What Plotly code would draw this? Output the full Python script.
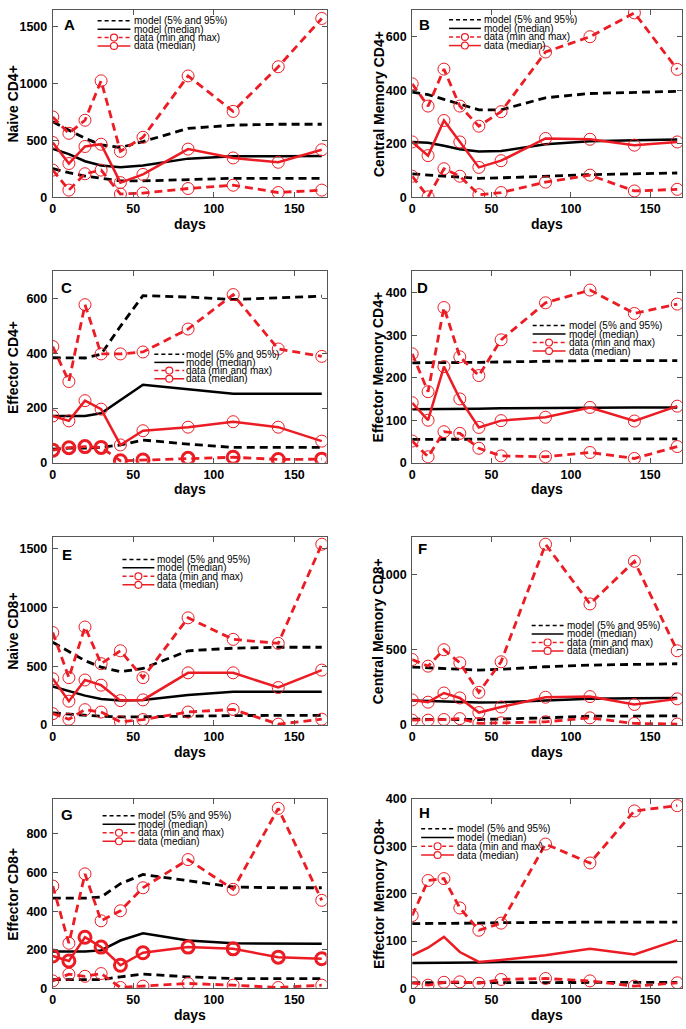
import plotly.graph_objects as go

# ---------------- data ----------------
days = [0, 10, 20, 30, 42, 56, 84, 112, 140, 167]
x_ticks = [0, 50, 100, 150]

# A: Naive CD4+
a_model_hi = [665, 592, 520, 462, 439, 491, 607, 636, 644, 644]
a_model_med = [428, 381, 318, 280, 266, 280, 341, 361, 361, 364]
a_model_lo = [254, 217, 188, 168, 145, 145, 159, 168, 168, 168]
a_data_max = [708, 564, 679, 1026, 405, 529, 1069, 757, 1150, 1575]
a_data_med = [483, 298, 448, 468, 130, 202, 425, 347, 309, 419]
a_data_min = [240, 64, 208, 240, 29, 38, 78, 107, 43, 64]

# B: Central Memory CD4+
b_model_hi = [393, 384, 366, 348, 327, 327, 372, 388, 393, 396]
b_model_med = [207, 204, 193, 180, 171, 173, 198, 210, 213, 216]
b_model_lo = [88, 83, 79, 76, 71, 73, 79, 85, 88, 91]
b_data_max = [424, 341, 479, 341, 266, 320, 543, 600, 689, 478]
b_data_med = [207, 156, 287, 207, 112, 137, 220, 217, 195, 207]
b_data_min = [79, 2, 107, 79, 10, 18, 57, 83, 24, 30]

# C: Effector CD4+
c_model_hi = [384, 383, 383, 397, 499, 611, 606, 597, 603, 609]
c_model_med = [171, 171, 171, 181, 230, 285, 269, 252, 252, 252]
c_model_lo = [50, 53, 53, 56, 65, 83, 68, 56, 56, 56]
c_data_max = [425, 297, 578, 398, 398, 405, 489, 615, 416, 389]
c_data_med = [171, 153, 227, 196, 65, 117, 130, 150, 130, 79]
c_data_min = [46, 55, 59, 56, 7, 10, 16, 20, 12, 13]

# D: Effector Memory CD4+
d_model_hi = [235, 235, 235, 235, 236, 237, 239, 240, 240, 240]
d_model_med = [126, 126, 126, 126, 127, 128, 129, 130, 130, 130]
d_model_lo = [55, 55, 55, 55, 55, 55, 56, 56, 56, 56]
d_data_max = [256, 167, 365, 249, 205, 289, 376, 406, 351, 373]
d_data_med = [141, 100, 226, 150, 83, 99, 107, 130, 98, 133]
d_data_min = [51, 14, 73, 69, 34, 16, 14, 24, 10, 38]

# E: Naive CD8+
e_model_hi = [703, 625, 547, 492, 453, 481, 631, 653, 661, 661]
e_model_med = [328, 292, 250, 222, 208, 214, 256, 283, 283, 283]
e_model_lo = [103, 92, 83, 75, 69, 69, 75, 81, 83, 83]
e_data_max = [786, 403, 833, 522, 631, 403, 911, 728, 694, 1536]
e_data_med = [394, 203, 383, 339, 208, 214, 444, 444, 319, 467]
e_data_min = [97, 50, 131, 111, 28, 47, 111, 133, 8, 50]

# F: Central Memory CD8+
f_model_hi = [385, 380, 374, 370, 365, 370, 387, 398, 402, 407]
f_model_med = [163, 159, 157, 152, 150, 152, 163, 174, 178, 180]
f_model_lo = [39, 37, 37, 37, 37, 39, 48, 59, 61, 61]
f_data_max = [435, 391, 500, 413, 217, 420, 1200, 804, 1087, 493]
f_data_med = [167, 152, 213, 180, 83, 120, 185, 189, 137, 174]
f_data_min = [33, 33, 37, 43, 11, 15, 22, 48, 11, 7]

# G: Effector CD8+
g_model_hi = [467, 467, 467, 473, 542, 590, 556, 525, 521, 521]
g_model_med = [191, 191, 191, 197, 248, 285, 248, 234, 231, 231]
g_model_lo = [46, 46, 46, 46, 60, 74, 60, 51, 51, 51]
g_data_max = [530, 234, 593, 350, 402, 521, 667, 513, 932, 456]
g_data_med = [168, 142, 265, 214, 120, 185, 214, 205, 162, 154]
g_data_min = [39, 74, 63, 77, 5, 12, 26, 17, 5, 17]

# H: Effector Memory CD8+
h_model_hi = [137, 137, 137, 138, 138, 139, 140, 140, 140, 140]
h_model_med = [54, 54, 54, 55, 55, 56, 56, 56, 56, 56]
h_model_lo = [12, 12, 12, 12, 13, 13, 13, 13, 13, 13]
h_data_max = [154, 228, 232, 170, 123, 138, 305, 265, 375, 386]
h_data_med = [70, 86, 109, 77, 56, 60, 70, 84, 72, 102]
h_data_min = [12, 7, 13, 14, 11, 19, 21, 16, 5, 12]

panel_letters = ["A", "B", "C", "D", "E", "F", "G", "H"]
panel_titles = ["Naive CD4+", "Central Memory CD4+", "Effector CD4+", "Effector Memory CD4+",
                "Naive CD8+", "Central Memory CD8+", "Effector CD8+", "Effector Memory CD8+"]
y_ranges = [[0, 1650], [0, 700], [0, 700], [0, 450], [0, 1600], [0, 1250], [0, 980], [0, 400]]
y_ticks = [[0, 500, 1000, 1500], [0, 200, 400, 600], [0, 200, 400, 600], [0, 100, 200, 300, 400],
           [0, 500, 1000, 1500], [0, 500, 1000], [0, 200, 400, 600, 800], [0, 100, 200, 300, 400]]
legend_labels = ["model (5% and 95%)", "model (median)", "data (min and max)", "data (median)"]

series = [
    (a_model_hi, a_model_med, a_model_lo, a_data_max, a_data_med, a_data_min),
    (b_model_hi, b_model_med, b_model_lo, b_data_max, b_data_med, b_data_min),
    (c_model_hi, c_model_med, c_model_lo, c_data_max, c_data_med, c_data_min),
    (d_model_hi, d_model_med, d_model_lo, d_data_max, d_data_med, d_data_min),
    (e_model_hi, e_model_med, e_model_lo, e_data_max, e_data_med, e_data_min),
    (f_model_hi, f_model_med, f_model_lo, f_data_max, f_data_med, f_data_min),
    (g_model_hi, g_model_med, g_model_lo, g_data_max, g_data_med, g_data_min),
    (h_model_hi, h_model_med, h_model_lo, h_data_max, h_data_med, h_data_min),
]

# ---------------- layout / style ----------------
W, H = 686, 1029
RED = "#ec1c24"
BLACK = "#000000"
FAM = "Liberation Sans, Arial, sans-serif"
TICK_FONT = dict(family=FAM, size=12.5, color="black", weight="bold")
TITLE_FONT = dict(family=FAM, size=14, color="black")
LEG_FONT = dict(family=FAM, size=10, color="black")

col_px = [(50, 325), (411, 682)]
row_px = [(3, 193), (268, 462), (537, 728), (803, 995)]
title_x_px = [10, 377]
# legend: (line start x, line end x, text x, first row y, row spacing)
legend_px = [
    (95, 128, 131, 14, 8.5),
    (448, 480, 482, 13, 8.7),
    (152, 182, 183, 352, 8.3),
    (532, 565, 567, 323, 8.6),
    (120, 152, 154, 560, 8.6),
    (531, 563, 565, 627, 8.6),
    (100, 133, 135, 820, 8.6),
    (420, 453, 455, 833, 8.9),
]
letter_px = [(67, 18), (423, 18), (64, 284), (421, 284), (64, 555), (421, 549), (64, 819), (423, 817)]
median_markers = [True, True, True, True, True, True, True, False]
thick_min = [False, False, True, False, False, False, False, False]
thick_med = [False, False, False, False, False, False, True, False]


def px(x):
    return x / W


def py(y):
    return 1 - y / H


fig = go.Figure()
shapes = []
annotations = []

for i in range(8):
    r, c = divmod(i, 2)
    n = i + 1
    xa = "x" if n == 1 else f"x{n}"
    ya = "y" if n == 1 else f"y{n}"
    hi, med, lo, dmax, dmed, dmin = series[i]

    common = dict(x=days, xaxis=xa, yaxis=ya, showlegend=False, hoverinfo="skip", cliponaxis=True)
    fig.add_trace(go.Scatter(y=hi, mode="lines", line=dict(color=BLACK, width=2.8, dash="8px,5px"), **common))
    fig.add_trace(go.Scatter(y=lo, mode="lines", line=dict(color=BLACK, width=2.8, dash="8px,5px"), **common))
    fig.add_trace(go.Scatter(y=med, mode="lines", line=dict(color=BLACK, width=2.5), **common))
    fig.add_trace(go.Scatter(y=dmax, mode="lines+markers", line=dict(color=RED, width=2.8, dash="8px,5px"),
                             marker=dict(symbol="circle-open", size=12, color=RED, line=dict(width=1)), **common))
    fig.add_trace(go.Scatter(y=dmin, mode="lines+markers", line=dict(color=RED, width=2.8, dash="8px,5px"),
                             marker=dict(symbol="circle-open", size=12, color=RED,
                                         line=dict(width=3 if thick_min[i] else 1)), **common))
    fig.add_trace(go.Scatter(y=dmed, mode="lines+markers" if median_markers[i] else "lines",
                             line=dict(color=RED, width=2.5),
                             marker=dict(symbol="circle-open", size=12, color=RED,
                                         line=dict(width=3 if thick_med[i] else 1)), **common))

    x0, x1 = col_px[c]
    yt, yb = row_px[r]
    axis_common = dict(showline=True, linecolor="#555", linewidth=1, mirror="ticks", ticks="inside",
                       ticklen=5, tickcolor="#555", showgrid=False, zeroline=False, tickfont=TICK_FONT)
    fig.update_layout(**{
        ("xaxis" if n == 1 else f"xaxis{n}"): dict(domain=[px(x0), px(x1)], anchor=ya, range=[0, 170],
                                                   tickvals=x_ticks, **axis_common),
        ("yaxis" if n == 1 else f"yaxis{n}"): dict(domain=[py(yb), py(yt)], anchor=xa, range=y_ranges[i],
                                                   tickvals=y_ticks[i], ticklabelstandoff=2, **axis_common),
    })

    # axis titles
    annotations.append(dict(x=px((x0 + x1) / 2), y=py(yb + 27), xref="paper", yref="paper", text="<b>days</b>",
                            showarrow=False, xanchor="center", yanchor="middle", font=TITLE_FONT))
    annotations.append(dict(x=px(title_x_px[c]), y=py((yt + yb) / 2), xref="paper", yref="paper",
                            text=f"<b>{panel_titles[i]}</b>", textangle=-90, showarrow=False,
                            xanchor="center", yanchor="middle", font=TITLE_FONT))
    # panel letter
    lx, ly = letter_px[i]
    annotations.append(dict(x=px(lx), y=py(ly), xref="paper", yref="paper", text=f"<b>{panel_letters[i]}</b>",
                            showarrow=False, xanchor="center", yanchor="middle",
                            font=dict(family=FAM, size=15, color="black")))

    # legend box (drawn manually so its compact spacing matches)
    sx0, sx1, tx, ry, dy = legend_px[i]
    styles = [(BLACK, "4px,3px", False), (BLACK, "solid", False), (RED, "4px,3px", True), (RED, "solid", True)]
    for k, (col, dash, circ) in enumerate(styles):
        yy = ry + k * dy
        shapes.append(dict(type="line", xref="paper", yref="paper", x0=px(sx0), x1=px(sx1), y0=py(yy), y1=py(yy),
                           line=dict(color=col, width=1.5, dash=dash)))
        if circ:
            cx = (sx0 + sx1) / 2
            shapes.append(dict(type="circle", xref="paper", yref="paper", x0=px(cx - 3.5), x1=px(cx + 3.5),
                               y0=py(yy + 3.5), y1=py(yy - 3.5), fillcolor="white",
                               line=dict(color=col, width=1.2)))
        annotations.append(dict(x=px(tx), y=py(yy), xref="paper", yref="paper", text=legend_labels[k],
                                showarrow=False, xanchor="left", yanchor="middle", font=LEG_FONT,
                                borderpad=0))

fig.update_layout(width=W, height=H, margin=dict(l=0, r=0, t=0, b=0), plot_bgcolor="white",
                  paper_bgcolor="white", shapes=shapes, annotations=annotations, showlegend=False)

fig.write_html("out.html", config={"displayModeBar": False},
               post_script="document.body.style.margin='0';document.body.style.overflow='hidden';")
